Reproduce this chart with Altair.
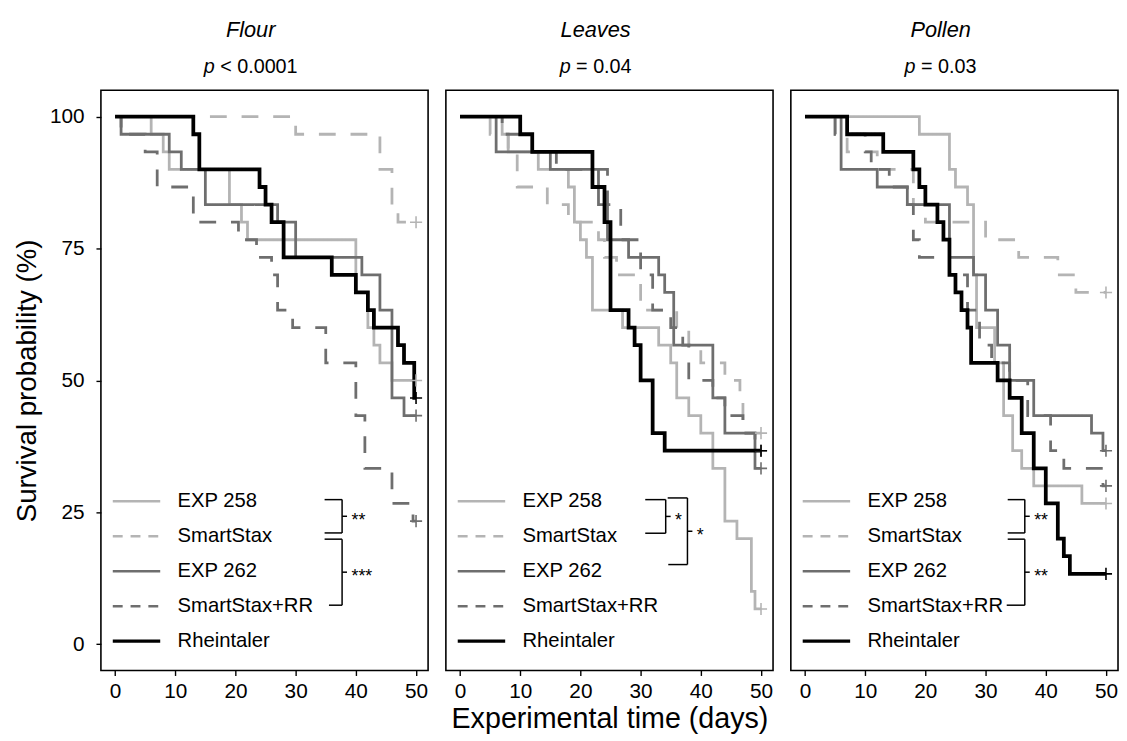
import altair as alt
import pandas as pd

FONT = "Liberation Sans"
SERIES = ["EXP 258", "SmartStax", "EXP 262", "SmartStax+RR", "Rheintaler"]
DASHED = ["SmartStax", "SmartStax+RR"]
DIETS = ["Flour", "Leaves", "Pollen"]
P_VALUES = ["< 0.0001", "= 0.04", "= 0.03"]
END_DAY = 50
X_TICKS = [0, 10, 20, 30, 40, 50]
Y_TICKS = [0, 25, 50, 75, 100]

# ---- Flour ----
flour_exp258_days = [0, 6, 8, 9, 19, 21, 22, 40, 42, 43, 44, 46]
flour_exp258_surv = [100, 96.67, 93.33, 90, 83.33, 80, 76.67, 66.67, 60, 56.67, 53.33, 50]
flour_smartstax_days = [0, 30, 44, 46, 47]
flour_smartstax_surv = [100, 96.67, 90, 83.33, 80]
flour_exp262_days = [0, 1, 9, 11, 15, 27, 30, 41, 44, 46, 48]
flour_exp262_surv = [100, 96.67, 93.33, 90, 83.33, 80, 73.33, 70, 63.33, 46.67, 43.33]
flour_ssrr_days = [0, 1, 5, 7, 13, 20.5, 23.5, 26, 27, 29.5, 35, 40, 41.5, 46, 49.5]
flour_ssrr_surv = [100, 96.67, 93.33, 86.67, 80, 76.67, 73.33, 70, 63.33, 60, 53.33, 43.33, 33.33, 26.67, 23.33]
flour_rhein_days = [0, 13, 14, 24, 25, 26, 28, 36, 40, 42, 43, 47, 48, 49.7]
flour_rhein_surv = [100, 96.67, 90, 86.67, 83.33, 80, 73.33, 70, 66.67, 63.33, 60, 56.67, 53.33, 46.67]

# ---- Leaves ----
leaves_exp258_days = [0, 7, 8, 13, 18, 19, 20, 21, 22, 27, 33, 35, 36, 38, 40, 42, 44, 46, 48.4, 49]
leaves_exp258_surv = [100, 96.67, 93.33, 90, 86.67, 80, 76.67, 73.33, 63.33, 60, 56.67, 53.33, 46.67,
                      43.33, 40, 33.33, 23.33, 20, 10, 6.67]
leaves_smartstax_days = [0, 5, 8, 9.5, 14.5, 18, 23, 24, 26, 30, 36, 38, 40, 44, 46.5, 47]
leaves_smartstax_surv = [100, 96.67, 93.33, 86.67, 83.33, 80, 76.67, 73.33, 70, 63.33, 60, 56.67, 53.33,
                         50, 46.67, 40]
leaves_exp262_days = [0, 6, 15, 23, 24.5, 28, 33, 34, 35.5, 42, 44, 49]
leaves_exp262_surv = [100, 93.33, 90, 83.33, 76.67, 73.33, 70, 66.67, 56.67, 46.67, 40, 33.33]
leaves_ssrr_days = [0, 7, 12, 16, 24.5, 26.7, 30, 32, 35, 37, 38, 42, 44, 47, 49]
leaves_ssrr_surv = [100, 96.67, 93.33, 90, 83.33, 76.67, 70, 63.33, 60, 56.67, 50, 46.67, 43.33, 40, 36.67]
leaves_rhein_days = [0, 10, 12, 22, 24, 25, 28, 29, 30, 32, 34]
leaves_rhein_surv = [100, 96.67, 93.33, 86.67, 80, 63.33, 60, 56.67, 50, 40, 36.67]

# ---- Pollen ----
pollen_exp258_days = [0, 19, 24, 25, 27, 28, 28.5, 31.5, 33, 34.5, 36, 38, 46]
pollen_exp258_surv = [100, 96.67, 90, 86.67, 83.33, 70, 60, 53.33, 43.33, 36.67, 33.33, 30, 26.67]
pollen_smartstax_days = [0, 5, 7, 12, 18, 20, 30, 35.5, 42, 45]
pollen_smartstax_surv = [100, 96.67, 93.33, 90, 83.33, 80, 76.67, 73.33, 70, 66.67]
pollen_exp262_days = [0, 6, 12, 17, 24, 28, 30, 32, 34, 38, 47.6, 49.5]
pollen_exp262_surv = [100, 90, 86.67, 83.33, 73.33, 70, 63.33, 56.67, 50, 43.33, 40, 36.67]
pollen_ssrr_days = [0, 5, 10, 11, 14, 17, 18, 19, 24, 27, 29, 31, 34, 37, 40.8, 43, 49.5]
pollen_ssrr_surv = [100, 96.67, 93.33, 90, 86.67, 83.33, 76.67, 73.33, 70, 63.33, 56.67, 53.33, 50,
                    43.33, 36.67, 33.33, 30]
pollen_rhein_days = [0, 7, 13, 18, 19, 20, 22, 23, 24, 25, 26, 27, 27.6, 32, 34, 36, 38, 40, 42, 43, 44]
pollen_rhein_surv = [100, 96.67, 93.33, 90, 86.67, 83.33, 80, 76.67, 70, 66.67, 63.33, 60, 53.33, 50,
                     46.67, 40, 33.33, 26.67, 20, 16.67, 13.33]

CURVES = {
    "Flour": [(flour_exp258_days, flour_exp258_surv), (flour_smartstax_days, flour_smartstax_surv),
              (flour_exp262_days, flour_exp262_surv), (flour_ssrr_days, flour_ssrr_surv),
              (flour_rhein_days, flour_rhein_surv)],
    "Leaves": [(leaves_exp258_days, leaves_exp258_surv), (leaves_smartstax_days, leaves_smartstax_surv),
               (leaves_exp262_days, leaves_exp262_surv), (leaves_ssrr_days, leaves_ssrr_surv),
               (leaves_rhein_days, leaves_rhein_surv)],
    "Pollen": [(pollen_exp258_days, pollen_exp258_surv), (pollen_smartstax_days, pollen_smartstax_surv),
               (pollen_exp262_days, pollen_exp262_surv), (pollen_ssrr_days, pollen_ssrr_surv),
               (pollen_rhein_days, pollen_rhein_surv)],
}

# significance brackets: (top row, bottom row, label)
SIGNIF = {
    "Flour": [(0, 1, "**"), (1, 3, "***")],
    "Leaves": [(0, 1, "*"), (0, 2, "*")],
    "Pollen": [(0, 1, "**"), (1, 3, "**")],
}

# ---- styling / geometry (pixels, panel-relative) ----
LIGHT = "#b4b4b4"
MID = "#6e6e6e"
W, H = 331, 587
X_DOMAIN = [-2.35, 52.0]
Y_DOMAIN = [-5, 105]
ROW0, ROW_STEP = 415.7, 35.4
BRACKET_GEOM = {  # per bracket: top offset, bottom offset, arm start top, arm start bottom, vertical x
    "Flour": [(-1.6, -3.3, 226.3, 226.3, 244.0), (3.0, -1.0, 226.3, 230.7, 244.0)],
    "Leaves": [(-1.6, -3.0, 201.7, 201.7, 222.4), (-3.3, -6.7, 224.4, 225.0, 244.4)],
    "Pollen": [(-1.6, -3.3, 219.4, 219.4, 236.7), (3.0, -1.0, 219.4, 218.4, 236.7)],
}
TITLE_CX = 151.5
CW = {"p": 0.556, " ": 0.278, "<": 0.584, "=": 0.584, ".": 0.278}
PLUS = "M-1,0L1,0M0,-1L0,1"

color_scale = alt.Scale(domain=SERIES, range=[LIGHT, LIGHT, MID, MID, "black"])
dash_scale = alt.Scale(domain=SERIES, range=[[1, 0], [17, 15], [1, 0], [17, 15], [1, 0]])


def text_width(s, fs):
    return sum(CW.get(c, 0.556) for c in s) * fs


def panel(idx, diet):
    rows = []
    for name, (days, surv) in zip(SERIES, CURVES[diet]):
        for d, s in zip(days, surv):
            rows.append({"series": name, "day": d, "surv": s, "end": False})
        rows.append({"series": name, "day": END_DAY, "surv": surv[-1], "end": True})
    df = pd.DataFrame(rows)

    x_axis = alt.Axis(values=X_TICKS, labelPadding=5, labelFlush=False,
                      title="Experimental time (days)" if idx == 1 else None,
                      titlePadding=4, titleFontSize=29)
    y_axis = alt.Axis(values=Y_TICKS, labelPadding=12, titlePadding=8,
                      title="Survival probability (%)") if idx == 0 else None
    x = alt.X("day:Q", scale=alt.Scale(domain=X_DOMAIN, nice=False, zero=False), axis=x_axis)
    y = alt.Y("surv:Q", scale=alt.Scale(domain=Y_DOMAIN, nice=False, zero=False), axis=y_axis)

    base = alt.Chart(df)
    lines = base.mark_line(interpolate="step-after").encode(
        x=x, y=y,
        color=alt.Color("series:N", scale=color_scale, legend=None),
        strokeDash=alt.StrokeDash("series:N", scale=dash_scale, legend=None),
        strokeWidth=alt.condition(alt.datum.series == "Rheintaler", alt.value(3.8), alt.value(2.8)),
        detail="series:N",
    )
    censor = base.transform_filter(alt.datum.end).mark_point(
        shape=PLUS, size=150, filled=False, strokeWidth=1.6, opacity=1
    ).encode(x=x, y=y, color=alt.Color("series:N", scale=color_scale, legend=None))

    leg = alt.Chart(pd.DataFrame({"series": SERIES, "row": list(range(len(SERIES)))})).transform_calculate(
        ly=f"{ROW0} + {ROW_STEP} * datum.row")
    leg_rules = leg.mark_rule().encode(
        x=alt.value(12), x2=alt.value(60),
        y=alt.Y("ly:Q", scale=None),
        color=alt.Color("series:N", scale=color_scale, legend=None),
        strokeDash=alt.condition(alt.FieldOneOfPredicate(field="series", oneOf=DASHED),
                                 alt.value([10, 8]), alt.value([1, 0])),
        strokeWidth=alt.condition(alt.datum.series == "Rheintaler", alt.value(3.2), alt.value(2.6)),
    )
    leg_text = leg.mark_text(align="left", baseline="middle", font=FONT, fontSize=20.5,
                             color="black").encode(
        x=alt.value(77.5), y=alt.Y("ly:Q", scale=None), text="series:N")

    segs, labels = [], []
    for (r0, r1, lab), (o0, o1, a0, a1, vx) in zip(SIGNIF[diet], BRACKET_GEOM[diet]):
        y0 = ROW0 + ROW_STEP * r0 + o0
        y1 = ROW0 + ROW_STEP * r1 + o1
        ym = (y0 + y1) / 2
        segs += [
            {"x": a0, "x2": vx, "y": y0, "y2": y0},
            {"x": a1, "x2": vx, "y": y1, "y2": y1},
            {"x": vx, "x2": vx, "y": y0, "y2": y1},
            {"x": vx, "x2": vx + 5, "y": ym, "y2": ym},
        ]
        labels.append({"x": vx + 9.5, "y": ym + 10, "lab": lab})
    br_rules = alt.Chart(pd.DataFrame(segs)).mark_rule(color="black", strokeWidth=1.5).encode(
        x=alt.X("x:Q", scale=None), x2="x2:Q", y=alt.Y("y:Q", scale=None), y2="y2:Q")
    br_text = alt.Chart(pd.DataFrame(labels)).mark_text(
        align="left", baseline="alphabetic", font=FONT, fontSize=18, color="black").encode(
        x=alt.X("x:Q", scale=None), y=alt.Y("y:Q", scale=None), text="lab:N")

    title = alt.Chart(pd.DataFrame({"t": [diet]})).mark_text(
        align="center", baseline="alphabetic", font=FONT, fontSize=22, fontStyle="italic",
        color="black").encode(x=alt.value(TITLE_CX), y=alt.value(-54.3), text="t:N")
    pfs = 20
    rest = P_VALUES[idx]
    total = text_width("p " + rest, pfs)
    start = TITLE_CX - total / 2
    p_it = alt.Chart(pd.DataFrame({"t": ["p"]})).mark_text(
        align="left", baseline="alphabetic", font=FONT, fontSize=pfs, fontStyle="italic",
        color="black").encode(x=alt.value(start), y=alt.value(-17.6), text="t:N")
    p_rest = alt.Chart(pd.DataFrame({"t": [rest]})).mark_text(
        align="left", baseline="alphabetic", font=FONT, fontSize=pfs, color="black").encode(
        x=alt.value(start + text_width("p ", pfs)), y=alt.value(-17.6), text="t:N")

    return alt.layer(lines, censor, leg_rules, leg_text, br_rules, br_text, title, p_it, p_rest).properties(
        width=W, height=H)


chart = alt.hconcat(*[panel(i, d) for i, d in enumerate(DIETS)], spacing=16).properties(
    padding={"left": 5, "top": 5, "right": 0, "bottom": 0}
).configure_view(stroke="black", strokeWidth=1.6).configure_axis(
    grid=False, domain=False, ticks=True, tickSize=5, tickWidth=1.4, tickColor="black",
    labelFont=FONT, labelFontSize=21, labelColor="black",
    titleFont=FONT, titleFontSize=28, titleFontWeight="normal", titleColor="black",
)

chart.save("out.html", embed_options={"renderer": "svg", "actions": False})
